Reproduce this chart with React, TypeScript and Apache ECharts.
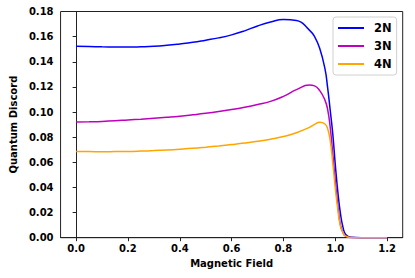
import React, { useEffect, useRef } from "react";
import * as echarts from "echarts";

const fieldValues = [0, 0.05, 0.1, 0.15, 0.2, 0.25, 0.3, 0.35, 0.4, 0.45, 0.5, 0.55, 0.6, 0.65, 0.7, 0.75, 0.8, 0.85, 0.9, 0.92, 0.94, 0.96, 0.97, 0.98, 0.99, 1.0, 1.01, 1.02, 1.03, 1.04, 1.06, 1.1, 1.2];
const discord2N = [0.1523, 0.1521, 0.1519, 0.1518, 0.1517, 0.1519, 0.1523, 0.1531, 0.1542, 0.1555, 0.1572, 0.159, 0.1614, 0.1646, 0.1685, 0.1716, 0.1736, 0.1729, 0.1652, 0.16, 0.1505, 0.1345, 0.12, 0.102, 0.083, 0.058, 0.036, 0.019, 0.008, 0.0025, 0.0003, 0, 0];
const discord3N = [0.092, 0.0922, 0.0925, 0.093, 0.0937, 0.0943, 0.095, 0.0958, 0.0967, 0.0978, 0.099, 0.1004, 0.102, 0.1038, 0.106, 0.1085, 0.1125, 0.1178, 0.1215, 0.1208, 0.117, 0.1095, 0.1025, 0.0885, 0.067, 0.045, 0.025, 0.01, 0.004, 0.0012, 0.0002, 0, 0];
const discord4N = [0.0685, 0.0685, 0.0684, 0.0685, 0.0686, 0.0689, 0.0693, 0.0698, 0.0704, 0.0711, 0.072, 0.073, 0.0741, 0.0753, 0.0767, 0.0784, 0.0805, 0.0835, 0.0878, 0.0902, 0.0918, 0.0905, 0.087, 0.0778, 0.06, 0.0395, 0.022, 0.009, 0.004, 0.0012, 0.0002, 0, 0];
const seriesNames = ["2N", "3N", "4N"];
const seriesColors = ["#0000ff", "#bf00bf", "#ffa500"];
const xTicks = [0, 0.2, 0.4, 0.6, 0.8, 1.0, 1.2];

const FONT = "DejaVu Sans";

export default function App() {
  const ref = useRef<HTMLDivElement>(null);
  useEffect(() => {
    if (!ref.current) return;
    const chart = echarts.init(ref.current, null, { renderer: "svg" });
    const all = [discord2N, discord3N, discord4N];
    const axisColor = "#222";
    chart.setOption({
      animation: false,
      textStyle: { fontFamily: FONT },
      grid: {
        left: 55,
        right: 12.3,
        top: 11.5,
        bottom: 40.3,
        show: true,
        borderColor: axisColor,
        borderWidth: 1,
        backgroundColor: "transparent",
      },
      legend: {
        left: 333,
        top: 17,
        orient: "vertical",
        icon: "rect",
        itemWidth: 26,
        itemHeight: 2,
        itemGap: 4,
        padding: [4, 5, 4, 5],
        borderColor: "#d0d0d0",
        borderWidth: 1,
        borderRadius: 3,
        backgroundColor: "rgba(255,255,255,0.8)",
        data: seriesNames,
        textStyle: {
          fontFamily: FONT,
          fontWeight: "bold",
          fontSize: 11.5,
          color: "#000",
          lineHeight: 14,
          padding: [0, 0, 0, 5],
        },
      },
      xAxis: {
        type: "value",
        min: -0.06,
        max: 1.26,
        z: 3,
        name: "Magnetic Field",
        nameLocation: "middle",
        nameGap: 19,
        nameTextStyle: { fontFamily: FONT, fontWeight: "bold", fontSize: 10, color: "#000" },
        splitLine: { show: false },
        axisLine: { show: true, onZero: false, lineStyle: { color: axisColor, width: 1 } },
        axisTick: { show: true, length: 3.5, customValues: xTicks, lineStyle: { color: axisColor } },
        axisLabel: {
          customValues: xTicks,
          margin: 6,
          fontFamily: FONT,
          fontWeight: "bold",
          fontSize: 10,
          color: "#000",
          formatter: (v: number) => v.toFixed(1),
        },
      },
      yAxis: {
        type: "value",
        min: 0,
        max: 0.18,
        interval: 0.02,
        name: "Quantum Discord",
        nameLocation: "middle",
        nameGap: 36,
        nameTextStyle: { fontFamily: FONT, fontWeight: "bold", fontSize: 10, color: "#000" },
        splitLine: { show: false },
        axisLine: { show: true, lineStyle: { color: axisColor, width: 1 } },
        axisTick: { show: true, length: 3.5, lineStyle: { color: axisColor } },
        axisLabel: {
          margin: 7,
          fontFamily: FONT,
          fontWeight: "bold",
          fontSize: 10,
          color: "#000",
          formatter: (v: number) => v.toFixed(2),
        },
      },
      series: seriesNames.map((name, i) => ({
        name,
        type: "line",
        data: fieldValues.map((x, j) => [x, all[i][j]]),
        showSymbol: false,
        smooth: 0.5,
        clip: true,
        color: seriesColors[i],
        lineStyle: { color: seriesColors[i], width: 1.5 },
      })),
    });
    return () => chart.dispose();
  }, []);
  return (
    <div
      ref={ref}
      style={{ position: "fixed", left: 0, top: 0, width: 415, height: 278, background: "#fff" }}
    />
  );
}
